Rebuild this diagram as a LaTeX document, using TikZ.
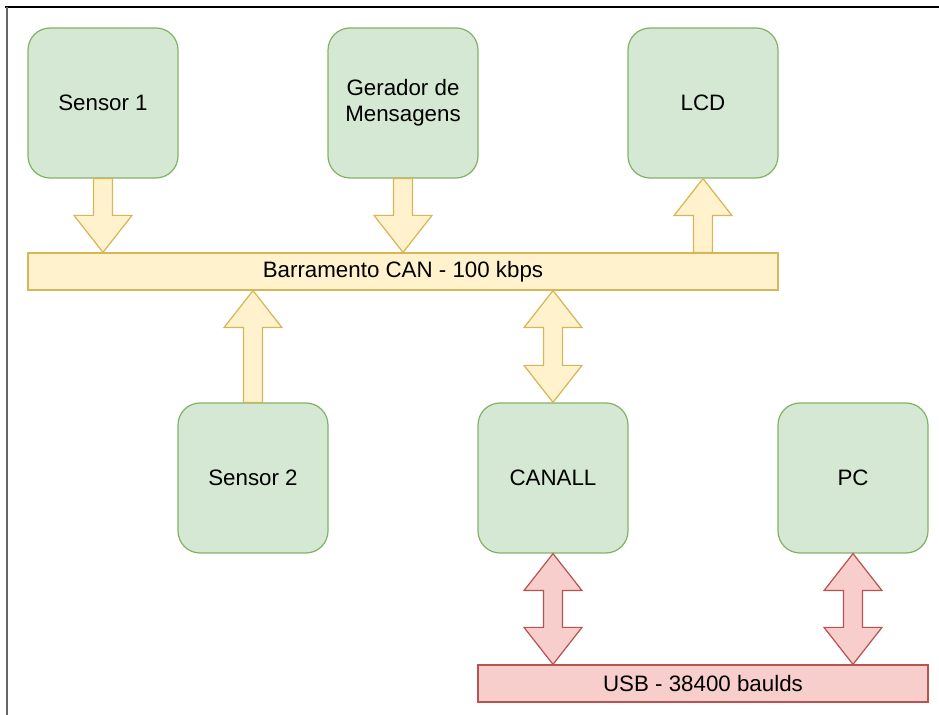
\documentclass[tikz,border=0pt]{standalone}
\usepackage{fontspec}
\setmainfont{Liberation Sans}
\usepackage{tikz}
\usetikzlibrary{positioning, calc}

\definecolor{grfill}{HTML}{D5E8D4}
\definecolor{grline}{HTML}{82B366}
\definecolor{yefill}{HTML}{FFF2CC}
\definecolor{yeline}{HTML}{D6B656}
\definecolor{rdfill}{HTML}{F8CECC}
\definecolor{rdline}{HTML}{B85450}

\tikzset{
    base/.style={line width=0.7pt, align=center, font=\fontsize{12.7}{14.8}\selectfont},
    block/.style={base, draw=grline, fill=grfill, rounded corners=0.44cm, minimum width=3cm, minimum height=3cm},
    canbus/.style={base, draw=yeline, fill=yefill, minimum height=0.74cm, inner sep=0pt},
    usbbus/.style={base, draw=rdline, fill=rdfill, minimum height=0.74cm, inner sep=0pt},
    yarrow/.style={line width=0.7pt, draw=yeline, fill=yefill, line join=miter},
    rarrow/.style={line width=0.7pt, draw=rdline, fill=rdfill, line join=miter}
}

% shaft half width, head half width, head length
\newcommand{\shw}{0.19cm}
\newcommand{\hdw}{0.58cm}
\newcommand{\hdl}{0.74cm}

% fat arrow with one head: style, start, tip
\newcommand{\fatarrow}[3]{%
    \path (#2) coordinate (fS) (#3) coordinate (fT);
    \path ($(fT)!\hdl!(fS)$) coordinate (fH);
    \draw[#1] ($(fS)!\shw!90:(fT)$) -- ($(fH)!\shw!90:(fT)$) -- ($(fH)!\hdw!90:(fT)$)
        -- (fT) -- ($(fH)!\hdw!-90:(fT)$) -- ($(fH)!\shw!-90:(fT)$) -- ($(fS)!\shw!-90:(fT)$) -- cycle;
}
% fat arrow with two heads: style, one end, other end
\newcommand{\fatdouble}[3]{%
    \path (#2) coordinate (fS) (#3) coordinate (fT);
    \path ($(fS)!\hdl!(fT)$) coordinate (fA) ($(fT)!\hdl!(fS)$) coordinate (fB);
    \draw[#1] (fS) -- ($(fA)!\hdw!90:(fT)$) -- ($(fA)!\shw!90:(fT)$) -- ($(fB)!\shw!90:(fT)$)
        -- ($(fB)!\hdw!90:(fT)$) -- (fT) -- ($(fB)!\hdw!-90:(fT)$) -- ($(fB)!\shw!-90:(fT)$)
        -- ($(fA)!\shw!-90:(fT)$) -- ($(fA)!\hdw!-90:(fT)$) -- cycle;
}

\begin{document}
\begin{tikzpicture}
    \useasboundingbox (0, 0) rectangle (18.78, 14.3);

    % frame
    \draw[line width=1.1pt, black] (0.1, 14.16) -- (18.78, 14.16);
    \draw[line width=0.9pt, gray!80!black] (0.14, 14.16) -- (0.14, 0);

    % Top row
    \node[block] (s1) at (2.06, 12.24) {Sensor 1};
    \node[block] (gen) at (8.06, 12.24) {Gerador de\\Mensagens};
    \node[block] (lcd) at (14.06, 12.24) {LCD};

    % CAN bus
    \node[canbus, minimum width=15cm] (bus) at (8.06, 8.87) {Barramento CAN - 100 kbps};

    % Bottom row
    \node[block] (s2) at (5.06, 4.74) {Sensor 2};
    \node[block] (canall) at (11.06, 4.74) {CANALL};
    \node[block] (pc) at (17.06, 4.74) {PC};

    % USB link
    \node[usbbus, minimum width=9cm] (usb) at (14.06, 0.63) {USB - 38400 baulds};

    % CAN traffic
    \fatarrow{yarrow}{s1.south}{s1.south |- bus.north}
    \fatarrow{yarrow}{gen.south}{gen.south |- bus.north}
    \fatarrow{yarrow}{lcd.south |- bus.north}{lcd.south}
    \fatarrow{yarrow}{s2.north}{s2.north |- bus.south}
    \fatdouble{yarrow}{canall.north |- bus.south}{canall.north}

    % USB traffic
    \fatdouble{rarrow}{canall.south}{canall.south |- usb.north}
    \fatdouble{rarrow}{pc.south}{pc.south |- usb.north}
\end{tikzpicture}
\end{document}
